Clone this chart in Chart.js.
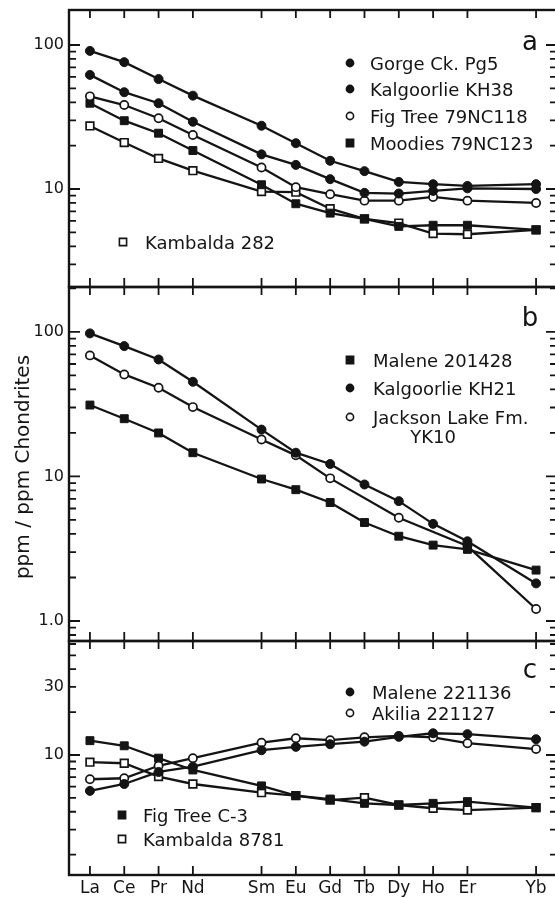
<!DOCTYPE html>
<html>
<head>
<meta charset="utf-8">
<script src="https://cdn.jsdelivr.net/npm/chart.js@4.4.1/dist/chart.umd.min.js"></script>
<style>
  html, body { margin: 0; padding: 0; background: #fff; overflow: hidden; }
  #wrap { position: relative; width: 555px; height: 898px; overflow: hidden; background: #fff; }
  canvas { position: absolute; left: 0; top: 0; }
</style>
</head>
<body>
<div id="wrap">
  <canvas id="chartA" width="560" height="898"></canvas>
  <canvas id="chartB" width="560" height="898"></canvas>
  <canvas id="chartC" width="560" height="898"></canvas>
</div>
<script>
// rare earth elements on the x axis, placed by atomic number (Pm and Tm left out)
const elements = ["La", "Ce", "Pr", "Nd", "Sm", "Eu", "Gd", "Tb", "Dy", "Ho", "Er", "Yb"];
const atomicNo = [57, 58, 59, 60, 62, 63, 64, 65, 66, 67, 68, 70];

// panel a
const gorgeCkPg5 = [91, 76, 58, 44.5, 27.5, 20.8, 15.7, 13.3, 11.2, 10.8, 10.5, 10.8];
const kalgoorlieKH38 = [62, 47, 39.4, 29.3, 17.4, 14.7, 11.7, 9.4, 9.3, 9.7, 10.1, 10.0];
const figTree79NC118 = [44, 38.3, 31, 23.7, 14.1, 10.3, 9.2, 8.3, 8.3, 8.8, 8.3, 8.0];
const moodies79NC123 = [39.4, 29.8, 24.4, 18.5, 10.7, 7.9, 6.8, 6.2, 5.5, 5.6, 5.6, 5.2];
const kambalda282 = [27.4, 21.0, 16.3, 13.4, 9.6, 9.5, 7.3, 6.2, 5.8, 4.9, 4.85, 5.2];

// panel b
const malene201428 = [31.2, 25.1, 20.0, 14.6, 9.6, 8.1, 6.6, 4.8, 3.86, 3.35, 3.13, 2.25];
const kalgoorlieKH21 = [97.7, 79.8, 64.5, 45.2, 21.1, 14.6, 12.2, 8.8, 6.75, 4.7, 3.56, 1.82];
const jacksonLakeYK10 = [68.8, 50.8, 41.1, 30.2, 18.0, 14.0, 9.7, null, 5.18, null, 3.3, 1.21];

// panel c
const malene221136 = [5.6, 6.26, 7.6, 8.28, 10.8, 11.4, 11.9, 12.4, 13.4, 14.2, 14.0, 12.9];
const akilia221127 = [6.76, 6.87, 8.4, 9.5, 12.2, 13.1, 12.7, 13.3, 13.6, 13.3, 12.1, 11.0];
const figTreeC3 = [12.6, 11.6, 9.5, 7.85, 6.07, 5.19, 4.91, 4.58, 4.46, 4.58, 4.71, 4.27];
const kambalda8781 = [8.9, 8.75, 7.05, 6.26, 5.44, 5.19, 4.83, 5.02, 4.46, 4.23, 4.11, 4.27];

// y tick labels per panel
const yTicksA = [10, 100];
const yLabelsA = ["10", "100"];
const yTicksB = [1, 10, 100];
const yLabelsB = ["1.0", "10", "100"];
const yTicksC = [10, 30];
const yLabelsC = ["10", "30"];

const INK = "#141414";
const FONT = "'DejaVu Sans', sans-serif";

const markerStyles = {
  filledCircle: { pointStyle: "circle", pointRadius: 4.5, pointBackgroundColor: INK, pointBorderWidth: 1 },
  openCircle: { pointStyle: "circle", pointRadius: 4.1, pointBackgroundColor: "#fff", pointBorderWidth: 1.7 },
  filledSquare: { pointStyle: "rect", pointRadius: 5.6, pointBackgroundColor: INK, pointBorderWidth: 1 },
  openSquare: { pointStyle: "rect", pointRadius: 5.4, pointBackgroundColor: "#fff", pointBorderWidth: 1.7 },
};

function series(values, marker) {
  return {
    data: values.map((v, i) => ({ x: atomicNo[i], y: v })),
    borderColor: INK,
    borderWidth: 2.3,
    tension: 0,
    spanGaps: true,
    pointBorderColor: INK,
    ...markerStyles[marker],
  };
}

function drawMarker(ctx, marker, x, y) {
  ctx.save();
  ctx.lineWidth = 1.6;
  ctx.strokeStyle = INK;
  ctx.fillStyle = marker.startsWith("filled") ? INK : "#fff";
  ctx.beginPath();
  if (marker.endsWith("Circle")) ctx.arc(x, y, 3.6, 0, Math.PI * 2);
  else ctx.rect(x - 3.6, y - 3.6, 7.2, 7.2);
  ctx.fill();
  ctx.stroke();
  ctx.restore();
}

// frame, inward ticks, panel letter and legend text
const panelDecor = {
  id: "panelDecor",
  afterDraw(chart, args, opts) {
    const { ctx, chartArea: a, scales } = chart;
    const x = scales.x;
    const y = scales.y;
    ctx.save();
    ctx.strokeStyle = INK;
    ctx.lineWidth = 2.4;
    ctx.strokeRect(a.left, a.top, a.right - a.left, a.bottom - a.top);

    ctx.lineWidth = 1.8;
    ctx.beginPath();
    atomicNo.forEach((z) => {
      const px = x.getPixelForValue(z);
      ctx.moveTo(px, a.top);
      ctx.lineTo(px, a.top + 8);
      ctx.moveTo(px, a.bottom);
      ctx.lineTo(px, a.bottom - 9);
    });
    const e0 = Math.floor(Math.log10(y.min));
    const e1 = Math.ceil(Math.log10(y.max));
    for (let e = e0; e <= e1; e++) {
      for (let m = 1; m <= 9; m++) {
        const v = m * Math.pow(10, e);
        if (v < y.min || v > y.max) continue;
        const py = y.getPixelForValue(v);
        const len = m === 1 ? 11 : 7;
        ctx.moveTo(a.left, py);
        ctx.lineTo(a.left + len, py);
        ctx.moveTo(a.right, py);
        ctx.lineTo(a.right - len, py);
      }
    }
    ctx.stroke();

    ctx.fillStyle = INK;
    ctx.textBaseline = "alphabetic";
    ctx.textAlign = "center";
    ctx.font = "26px " + FONT;
    ctx.fillText(opts.letter.text, opts.letter.x, opts.letter.y + 8);

    ctx.textAlign = "left";
    ctx.font = "18px " + FONT;
    (opts.legend || []).forEach((item) => {
      drawMarker(ctx, item.marker, item.mx, item.y);
      ctx.fillText(item.text, item.tx, item.y + 6.5);
    });
    (opts.notes || []).forEach((n) => {
      ctx.textAlign = n.align || "left";
      ctx.fillText(n.text, n.x, n.y + 6.5);
    });
    if (opts.yTitle) {
      ctx.translate(opts.yTitle.x, opts.yTitle.y);
      ctx.rotate(-Math.PI / 2);
      ctx.textAlign = "center";
      ctx.font = "20px " + FONT;
      ctx.fillText(opts.yTitle.text, 0, 7);
    }
    ctx.restore();
  },
};

function makePanel(id, cfg) {
  const showX = !!cfg.showX;
  return new Chart(document.getElementById(id), {
    type: "line",
    data: { datasets: cfg.datasets },
    plugins: [panelDecor],
    options: {
      responsive: false,
      animation: false,
      devicePixelRatio: 1,
      layout: {
        autoPadding: false,
        padding: { left: 0, right: 3, top: cfg.top, bottom: cfg.bottom },
      },
      plugins: {
        legend: { display: false },
        tooltip: { enabled: false },
        panelDecor: cfg.decor,
      },
      scales: {
        x: {
          type: "linear",
          min: 56.39,
          max: 70.61,
          bounds: "data",
          display: showX,
          grid: { display: false, drawTicks: false },
          border: { display: false },
          ticks: {
            autoSkip: false,
            maxRotation: 0,
            padding: 3,
            color: INK,
            font: { family: FONT, size: 17 },
            callback: (v, i) => elements[i],
          },
          afterBuildTicks: (s) => {
            s.ticks = atomicNo.map((v) => ({ value: v }));
          },
          afterFit: (s) => {
            s.height = showX ? 23 : 0;
            s.paddingLeft = 0;
            s.paddingRight = 0;
          },
        },
        y: {
          type: "logarithmic",
          min: cfg.yMin,
          max: cfg.yMax,
          bounds: "data",
          grid: { display: false, drawTicks: false },
          border: { display: false },
          ticks: {
            padding: 5,
            color: INK,
            font: { family: FONT, size: 16 },
            callback: (v, i) => cfg.yLabels[i],
          },
          afterBuildTicks: (s) => {
            s.ticks = cfg.yTicks.map((v) => ({ value: v }));
          },
          afterFit: (s) => {
            s.width = 69;
            s.paddingTop = 0;
            s.paddingBottom = 0;
          },
        },
      },
    },
  });
}

makePanel("chartA", {
  top: 10,
  bottom: 611,
  yMin: 2.086,
  yMax: 175,
  yTicks: yTicksA,
  yLabels: yLabelsA,
  datasets: [
    series(gorgeCkPg5, "filledCircle"),
    series(kalgoorlieKH38, "filledCircle"),
    series(figTree79NC118, "openCircle"),
    series(moodies79NC123, "filledSquare"),
    series(kambalda282, "openSquare"),
  ],
  decor: {
    letter: { text: "a", x: 530, y: 42 },
    legend: [
      { marker: "filledCircle", text: "Gorge Ck. Pg5", mx: 350, tx: 370, y: 63 },
      { marker: "filledCircle", text: "Kalgoorlie KH38", mx: 350, tx: 370, y: 89 },
      { marker: "openCircle", text: "Fig Tree 79NC118", mx: 350, tx: 370, y: 116 },
      { marker: "filledSquare", text: "Moodies 79NC123", mx: 350, tx: 370, y: 143 },
      { marker: "openSquare", text: "Kambalda 282", mx: 123, tx: 145, y: 242 },
    ],
  },
});

makePanel("chartB", {
  top: 287,
  bottom: 257,
  yMin: 0.727,
  yMax: 204.6,
  yTicks: yTicksB,
  yLabels: yLabelsB,
  datasets: [
    series(malene201428, "filledSquare"),
    series(kalgoorlieKH21, "filledCircle"),
    series(jacksonLakeYK10, "openCircle"),
  ],
  decor: {
    letter: { text: "b", x: 530, y: 318 },
    legend: [
      { marker: "filledSquare", text: "Malene 201428", mx: 350, tx: 373, y: 360 },
      { marker: "filledCircle", text: "Kalgoorlie KH21", mx: 350, tx: 373, y: 388 },
      { marker: "openCircle", text: "Jackson Lake Fm.", mx: 350, tx: 373, y: 417 },
    ],
    notes: [{ text: "YK10", x: 433, y: 436, align: "center" }],
    yTitle: { text: "ppm / ppm Chondrites", x: 22, y: 467 },
  },
});

makePanel("chartC", {
  top: 641,
  bottom: 0,
  showX: true,
  yMin: 1.44,
  yMax: 63,
  yTicks: yTicksC,
  yLabels: yLabelsC,
  datasets: [
    series(malene221136, "filledCircle"),
    series(akilia221127, "openCircle"),
    series(figTreeC3, "filledSquare"),
    series(kambalda8781, "openSquare"),
  ],
  decor: {
    letter: { text: "c", x: 530, y: 670 },
    legend: [
      { marker: "filledCircle", text: "Malene 221136", mx: 350, tx: 372, y: 692 },
      { marker: "openCircle", text: "Akilia 221127", mx: 350, tx: 372, y: 713 },
      { marker: "filledSquare", text: "Fig Tree C-3", mx: 122, tx: 143, y: 815 },
      { marker: "openSquare", text: "Kambalda 8781", mx: 122, tx: 143, y: 839 },
    ],
  },
});
</script>
</body>
</html>
